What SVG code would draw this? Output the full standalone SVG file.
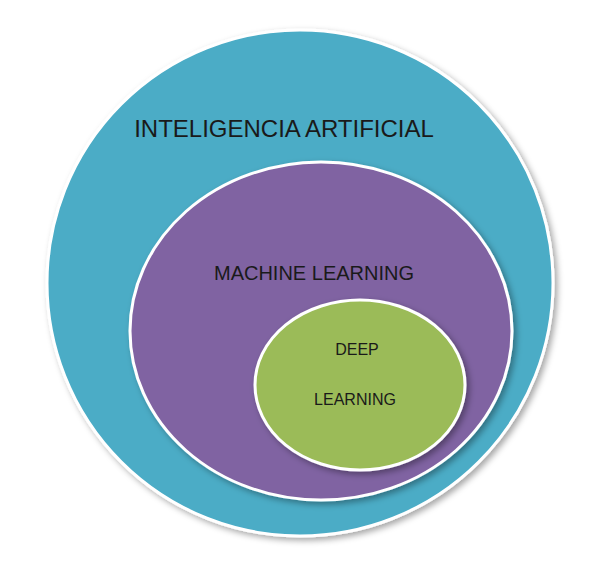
<svg xmlns="http://www.w3.org/2000/svg" width="600" height="569" viewBox="0 0 600 569">
<defs>
<style>
.lbl{font-family:"Liberation Sans","Open Sans",sans-serif;fill:#1a1a1a;text-anchor:middle}
</style>
<filter id="sh" x="-10%" y="-10%" width="120%" height="120%"><feDropShadow dx="3" dy="3" stdDeviation="3" flood-color="#000" flood-opacity="0.35"/></filter>
</defs>
<rect width="600" height="569" fill="#fff"/>
<g id="ia">
<ellipse cx="300" cy="283" rx="253" ry="253" fill="#4bacc6" stroke="#fff" stroke-width="3" filter="url(#sh)"/>
<text class="lbl" x="284" y="137" font-size="24">INTELIGENCIA ARTIFICIAL</text>
</g>
<g id="ml">
<ellipse cx="321" cy="331" rx="191" ry="169" fill="#8064a2" stroke="#fff" stroke-width="3" filter="url(#sh)"/>
<text class="lbl" x="314" y="280" font-size="20">MACHINE LEARNING</text>
</g>
<g id="dl">
<ellipse cx="360" cy="385" rx="105" ry="85" fill="#9bbb59" stroke="#fff" stroke-width="3" filter="url(#sh)"/>
<text class="lbl" x="357" y="355" font-size="16">DEEP</text>
<text class="lbl" x="355" y="405" font-size="16">LEARNING</text>
</g>
<g id="connectors"/>
</svg>
